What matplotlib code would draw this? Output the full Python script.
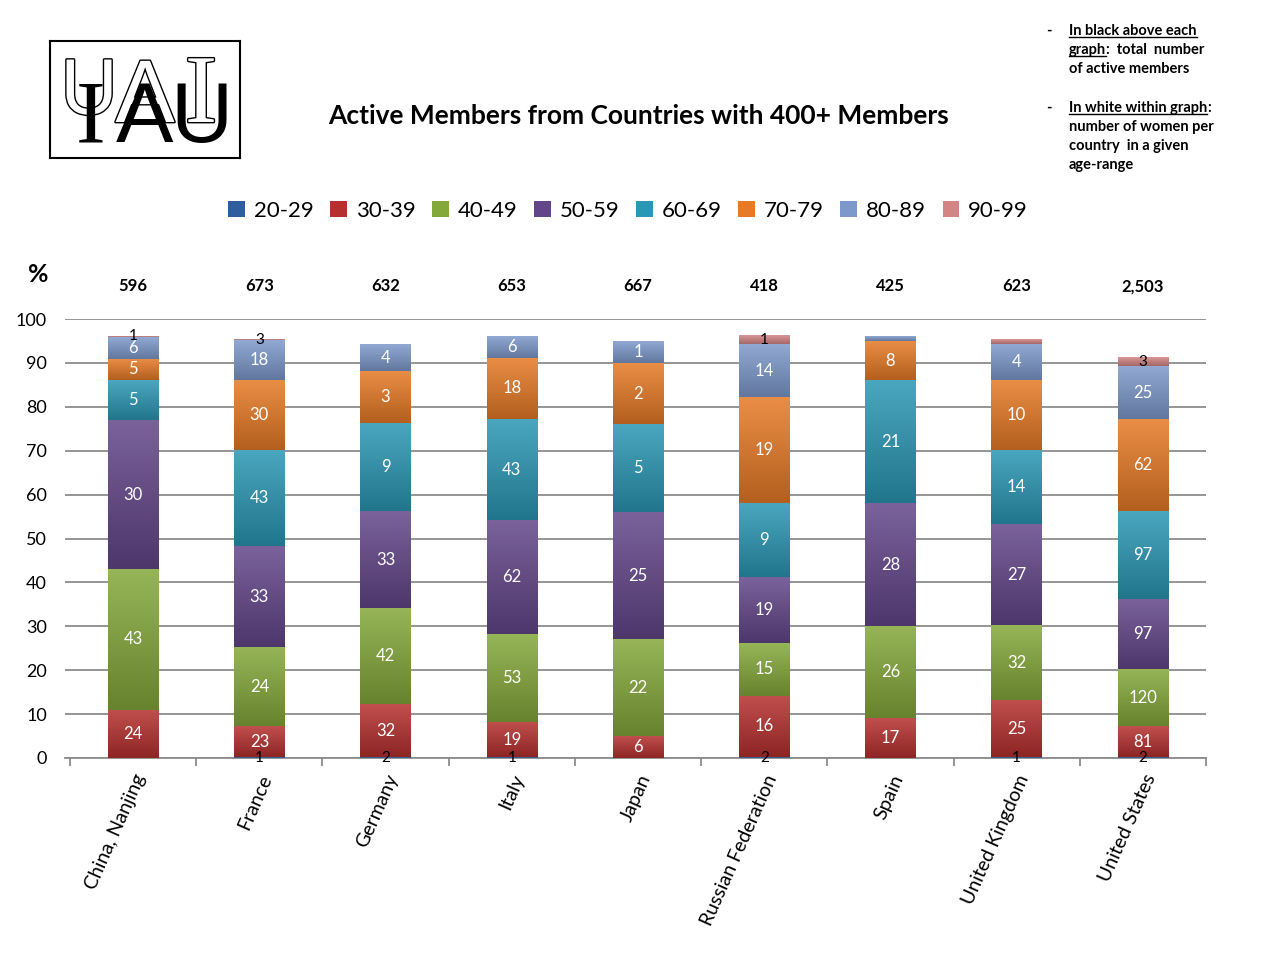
import numpy as np
import matplotlib.pyplot as plt
from matplotlib import patheffects
from matplotlib.patches import Patch
from matplotlib.lines import Line2D

plt.rcParams['font.family'] = ['Lato', 'DejaVu Sans']

countries = ['China, Nanjing', 'France', 'Germany', 'Italy', 'Japan',
             'Russian Federation', 'Spain', 'United Kingdom', 'United States']
totals = ['596', '673', '632', '653', '667', '418', '425', '623', '2,503']
age_groups = ['20-29', '30-39', '40-49', '50-59', '60-69', '70-79', '80-89', '90-99']

# share of active members per age range (%)
pct = {
    '20-29': [0.0, 0.2, 0.2, 0.2, 0.0, 0.2, 0.0, 0.2, 0.2],
    '30-39': [11, 7, 12, 8, 5, 14, 9, 13, 7],
    '40-49': [32, 18, 22, 20, 22, 12, 21, 17, 13],
    '50-59': [34, 23, 22, 26, 29, 15, 28, 23, 16],
    '60-69': [9, 22, 20, 23, 20, 17, 28, 17, 20],
    '70-79': [5, 16, 12, 14, 14, 24, 9, 16, 21],
    '80-89': [5, 9, 6, 5, 5, 12, 1, 8, 12],
    '90-99': [0.2, 0.2, 0.0, 0.0, 0.0, 2, 0.0, 1, 2],
}

# number of women per age range (None = no label)
women = {
    '20-29': [None, 1, 2, 1, None, 2, None, 1, 2],
    '30-39': [24, 23, 32, 19, 6, 16, 17, 25, 81],
    '40-49': [43, 24, 42, 53, 22, 15, 26, 32, 120],
    '50-59': [30, 33, 33, 62, 25, 19, 28, 27, 97],
    '60-69': [5, 43, 9, 43, 5, 9, 21, 14, 97],
    '70-79': [5, 30, 3, 18, 2, 19, 8, 10, 62],
    '80-89': [6, 18, 4, 6, 1, 14, None, 4, 25],
    '90-99': [1, 3, None, None, None, 1, None, None, 3],
}

colors = {
    '20-29': '#2E5E9C', '30-39': '#B5302E', '40-49': '#84A83A', '50-59': '#634689',
    '60-69': '#2A97B4', '70-79': '#E67A26', '80-89': '#7D99CB', '90-99': '#D38484',
}
black_labels = ['20-29', '90-99']


def mix(c, other, f):
    c = np.array(plt.matplotlib.colors.to_rgb(c))
    return c * (1 - f) + np.array(other) * f


fig = plt.figure(figsize=(12.8, 9.56), dpi=100)
ax = fig.add_axes([65 / 1280, 1 - 758 / 956, 1141 / 1280, 439 / 956])

x = np.arange(len(countries))
bottom = np.zeros(len(countries))
for g in age_groups:
    vals = np.array(pct[g], dtype=float)
    bars = ax.bar(x, vals, 0.4, bottom=bottom, color=colors[g], zorder=2)
    top = mix(colors[g], (1, 1, 1), 0.15)
    bot = mix(colors[g], (0, 0, 0), 0.22)
    grad = np.linspace(0, 1, 64)[:, None, None] * (top - bot) + bot
    for rect in bars:
        if rect.get_height() <= 0:
            continue
        x0, y0 = rect.get_x(), rect.get_y()
        ax.imshow(grad, extent=[x0, x0 + rect.get_width(), y0, y0 + rect.get_height()],
                  origin='lower', aspect='auto', zorder=3)
    for i, n in enumerate(women[g]):
        if n is None:
            continue
        yc = bottom[i] + vals[i] / 2
        if g in black_labels:
            ax.text(x[i], yc, str(n), ha='center', va='center', fontsize=11,
                    color='black', zorder=5)
        else:
            ax.text(x[i], yc, str(n), ha='center', va='center', fontsize=12,
                    color='white', zorder=5)
    bottom += vals

for i, t in enumerate(totals):
    ax.text(x[i], 107.5, t, ha='center', va='center', fontsize=12,
            fontweight='bold', clip_on=False)

ax.set_xlim(-0.54, 8.5)
ax.set_ylim(0, 100)
ax.set_yticks(range(0, 101, 10))
ax.yaxis.grid(True, color='#8C8C8C', linewidth=1.3, zorder=0)
ax.set_axisbelow(True)
for s in ['top', 'right', 'left']:
    ax.spines[s].set_visible(False)
ax.spines['bottom'].set_color('#8C8C8C')
ax.spines['bottom'].set_linewidth(1.3)
ax.tick_params(axis='y', length=0, labelsize=13, pad=13)
ax.set_xticks(x)
ax.set_xticklabels(countries, rotation=66, ha='right', va='top',
                   rotation_mode='anchor', fontsize=14)
ax.tick_params(axis='x', which='major', length=0, pad=10)
ax.set_xticks(np.arange(-0.5, 9.0, 1.0), minor=True)
ax.tick_params(axis='x', which='minor', length=6, color='#8C8C8C', width=1.3)

fig.text(38 / 1280, 1 - 275 / 956, '%', fontsize=18, fontweight='bold',
         ha='center', va='center')
fig.text(639 / 1280, 1 - 116 / 956, 'Active Members from Countries with 400+ Members',
         fontsize=19, fontweight='bold', ha='center', va='center')

handles = [Patch(facecolor=colors[g], label=g) for g in age_groups]
fig.legend(handles=handles, ncol=8, loc='center', bbox_to_anchor=(628 / 1280, 1 - 211 / 956),
           frameon=False, fontsize=16, handlelength=0.75, handleheight=0.75,
           handletextpad=0.4, columnspacing=0.75)

# logo
lax = fig.add_axes([50 / 1280, 1 - 158 / 956, 190 / 1280, 117 / 956])
lax.set_xlim(0, 190)
lax.set_ylim(117, 0)
lax.set_xticks([])
lax.set_yticks([])
for s in lax.spines.values():
    s.set_linewidth(1.5)
outline = [patheffects.withStroke(linewidth=2.0, foreground='black')]
lax.text(39, 73, 'U', family='Liberation Sans', fontsize=57, color='white',
         ha='center', va='baseline', path_effects=outline)
lax.text(95, 81, 'A', family='Liberation Sans', fontsize=64, color='white',
         ha='center', va='baseline', path_effects=outline)
lax.text(151, 81, 'I', family='Liberation Serif', fontsize=70, color='white',
         ha='center', va='baseline', path_effects=outline)
lax.text(41, 101, 'I', family='Liberation Serif', fontsize=64, color='black',
         ha='center', va='baseline')
lax.text(95, 101, 'A', family='Liberation Sans', fontsize=62, color='black',
         ha='center', va='baseline')
lax.text(151, 101, 'U', family='Liberation Sans', fontsize=62, color='black',
         ha='center', va='baseline')

# notes top right
notes = [
    (31, 'In black above each', True),
    (50, 'graph', True),
    (69, 'of active members', False),
    (108, 'In white within graph', True),
    (127, 'number of women per', False),
    (146, 'country  in a given', False),
    (165, 'age-range', False),
]
fig.canvas.draw()
renderer = fig.canvas.get_renderer()
for y, s, ul in notes:
    t = fig.text(1069 / 1280, 1 - y / 956, s, fontsize=10.5, fontweight='bold',
                 ha='left', va='center')
    if ul:
        bb = t.get_window_extent(renderer)
        yl = bb.y0 + 1
        fig.add_artist(Line2D([bb.x0 / 1280, bb.x1 / 1280], [yl / 956, yl / 956],
                              color='black', linewidth=1))
        if s == 'graph':
            fig.text(bb.x1 / 1280, 1 - y / 956, ':  total  number', fontsize=10.5,
                     fontweight='bold', ha='left', va='center')
        if s == 'In white within graph':
            fig.text(bb.x1 / 1280, 1 - y / 956, ':', fontsize=10.5,
                     fontweight='bold', ha='left', va='center')
for y in [31, 108]:
    fig.text(1046 / 1280, 1 - y / 956, '-', fontsize=10.5, fontweight='bold',
             ha='left', va='center')

fig.savefig('out.png', dpi=100)
